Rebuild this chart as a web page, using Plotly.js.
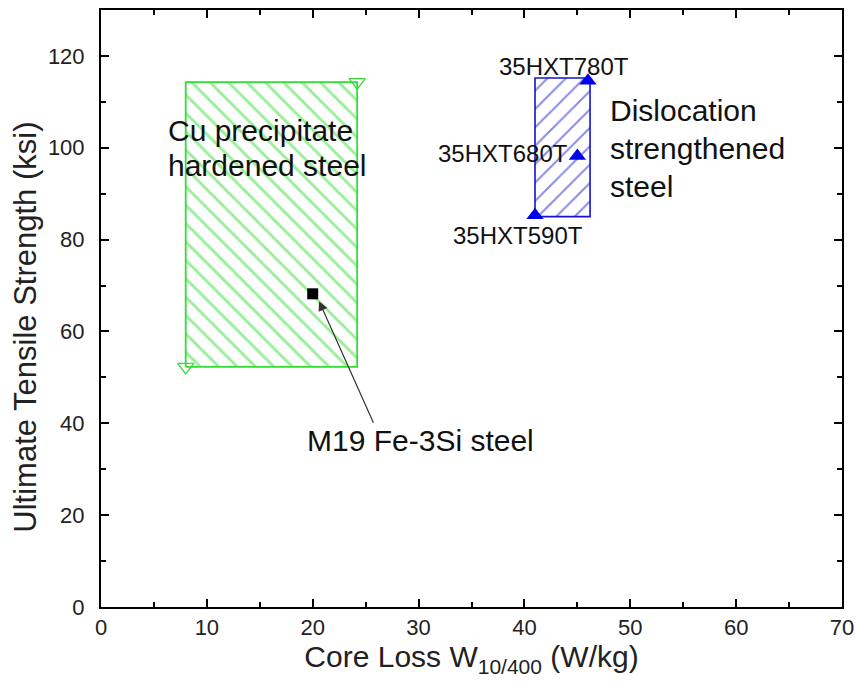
<!DOCTYPE html>
<html>
<head>
<meta charset="utf-8">
<script src="https://cdn.plot.ly/plotly-3.0.1.min.js"></script>
<style>html,body{margin:0;padding:0;background:#fff;}#chart{width:855px;height:685px;}</style>
</head>
<body>
<div id="chart"></div>
<script>
// Cu precipitate hardened steel region (core loss W/kg, UTS ksi)
var cuLoss = [8, 24.2];
var cuStrength = [52.3, 114.3];
// Dislocation strengthened steel region
var dsLoss = [41, 46.2];
var dsStrength = [85, 115.2];
// Dislocation strengthened grades
var dsNames = ["35HXT590T", "35HXT680T", "35HXT780T"];
var dsGradeLoss = [41, 45, 46];
var dsGradeStrength = [85.3, 98.2, 114.6];
// M19 reference steel
var m19Loss = [20];
var m19Strength = [68.2];

function rect(xs, ys) {
  return {x: [xs[0], xs[1], xs[1], xs[0], xs[0]], y: [ys[0], ys[0], ys[1], ys[1], ys[0]]};
}
var cuR = rect(cuLoss, cuStrength);
var dsR = rect(dsLoss, dsStrength);
var green = "#33dd33";
var blue = "#1414cc";

var traces = [
  {x: cuR.x, y: cuR.y, mode: "lines", fill: "toself", fillcolor: "rgba(0,0,0,0)",
   line: {color: green, width: 1.8},
   fillpattern: {shape: "\\", size: 13, solidity: 0.22, fgcolor: green, bgcolor: "rgba(0,0,0,0)", fillmode: "overlay"},
   hoverinfo: "skip", showlegend: false},
  {x: [cuLoss[0], cuLoss[1]], y: [cuStrength[0], cuStrength[1]], mode: "markers",
   marker: {symbol: "triangle-down-open", size: 14, color: green, line: {width: 1.3, color: green}}, showlegend: false},
  {x: dsR.x, y: dsR.y, mode: "lines", fill: "toself", fillcolor: "rgba(0,0,0,0)",
   line: {color: blue, width: 1.6},
   fillpattern: {shape: "/", size: 13, solidity: 0.15, fgcolor: blue, bgcolor: "rgba(0,0,0,0)", fillmode: "overlay"},
   hoverinfo: "skip", showlegend: false},
  {x: dsGradeLoss, y: dsGradeStrength, text: dsNames, mode: "markers",
   marker: {symbol: "triangle-up", size: 15, color: "#0000ee"}, showlegend: false},
  {x: m19Loss, y: m19Strength, mode: "markers",
   marker: {symbol: "square", size: 11, color: "#000"}, showlegend: false}
];

var f = "Liberation Sans, Arial, sans-serif";
function ann(x, y, t, size, xa) {
  return {x: x, y: y, xref: "x", yref: "y", text: t, showarrow: false,
    font: {family: f, size: size, color: "#111"}, xanchor: xa || "center", yanchor: "middle"};
}
var annotations = [
  ann(6.1, 103.8, "Cu precipitate", 30, "left"),
  ann(6.1, 96.2, "hardened steel", 30, "left"),
  ann(47.9, 108.2, "Dislocation", 30, "left"),
  ann(47.9, 99.8, "strengthened", 30, "left"),
  ann(47.9, 91.5, "steel", 30, "left"),
  ann(43.7, 117.8, dsNames[2], 24),
  ann(44.3, 98.8, dsNames[1], 24, "right"),
  ann(39.4, 81.0, dsNames[0], 24),
  ann(30.2, 36.3, "M19 Fe-3Si steel", 30),
  {x: m19Loss[0] + 0.6, y: m19Strength[0] - 1.6, xref: "x", yref: "y", ax: 25.8, ay: 39.8,
   axref: "x", ayref: "y", text: "", showarrow: true, arrowhead: 2, arrowsize: 1.6,
   arrowwidth: 1.2, arrowcolor: "#333"},
  {x: -0.103, y: 0.469, xref: "paper", yref: "paper", text: "Ultimate Tensile Strength (ksi)",
   textangle: -90, showarrow: false, xanchor: "center", yanchor: "middle",
   font: {family: f, size: 31, color: "#222"}}
];

var axisCommon = {
  showline: true, linecolor: "#000", linewidth: 2, mirror: "ticks",
  ticks: "inside", ticklen: 8, tickwidth: 2, tickcolor: "#000",
  showgrid: false, zeroline: false,
  tickfont: {family: f, size: 22, color: "#222"}
};
var layout = {
  width: 855, height: 685,
  margin: {l: 101, r: 13, t: 10, b: 78},
  paper_bgcolor: "#fff", plot_bgcolor: "#fff",
  showlegend: false,
  xaxis: Object.assign({}, axisCommon, {
    range: [0, 70], dtick: 10, tick0: 0,
    minor: {ticks: "inside", ticklen: 5, tickwidth: 2, tickcolor: "#000", dtick: 5},
    title: {text: "Core Loss W<sub>10/400</sub> (W/kg)", font: {family: f, size: 30, color: "#222"}, standoff: 6}
  }),
  yaxis: Object.assign({}, axisCommon, {
    range: [0, 130], dtick: 20, tick0: 0, ticklabelstandoff: 10,
    minor: {ticks: "inside", ticklen: 5, tickwidth: 2, tickcolor: "#000", dtick: 10}
  }),
  annotations: annotations
};
Plotly.newPlot("chart", traces, layout, {displayModeBar: false, staticPlot: true});
</script>
</body>
</html>
